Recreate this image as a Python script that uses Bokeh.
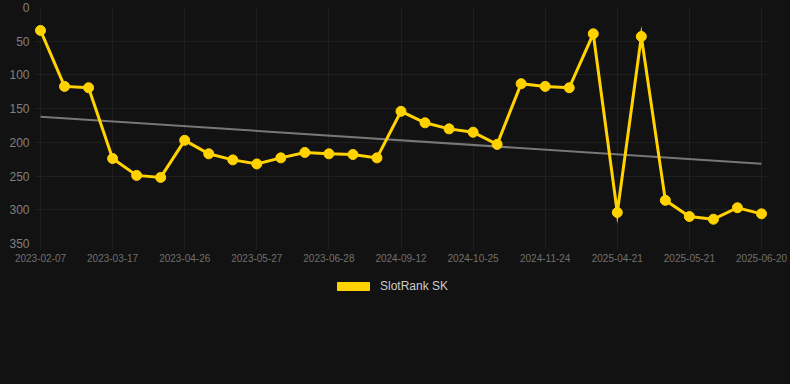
import numpy as np
from bokeh.plotting import figure
from bokeh.layouts import column
from bokeh.models import Range1d, FixedTicker, Legend, LegendItem, ColumnDataSource
from bokeh.embed import file_html
from bokeh.resources import INLINE

tick_labels = ["2023-02-07", "2023-03-17", "2023-04-26", "2023-05-27", "2023-06-28",
               "2024-09-12", "2024-10-25", "2024-11-24", "2025-04-21", "2025-05-21", "2025-06-20"]
ranks = [34, 117, 119, 224, 249, 252, 197, 217, 226, 232, 223, 215, 217, 218, 223,
         154, 171, 180, 185, 203, 113, 117, 119, 39, 304, 43, 286, 310, 314, 297, 306]
y_ticks = [0, 50, 100, 150, 200, 250, 300, 350]
series_name = "SlotRank SK"

GOLD = "#FFD200"
BG = "#121212"
GRID = "#1f1f1f"
FONT = "Liberation Sans"

idx = list(range(len(ranks)))
label_step = (len(ranks) - 1) // (len(tick_labels) - 1)
tick_pos = idx[::label_step]

slope, intercept = np.polyfit(idx, ranks, 1)
trend_x = [idx[0], idx[-1]]
trend_y = [intercept + slope * idx[0], intercept + slope * idx[-1]]

pad = 0.25  # keeps the end markers unclipped
p = figure(frame_width=733, frame_height=236, output_backend="svg", toolbar_location=None,
           x_range=Range1d(idx[0] - pad, idx[-1] + pad), y_range=Range1d(350, 0),
           min_border_left=34, min_border_right=23, min_border_top=7, min_border_bottom=27)
p.background_fill_color = BG
p.border_fill_color = BG
p.outline_line_color = None
p.outline_line_alpha = 0

p.xaxis.ticker = FixedTicker(ticks=tick_pos)
p.xaxis.major_label_overrides = {pos: lab for pos, lab in zip(tick_pos, tick_labels)}
p.yaxis.ticker = FixedTicker(ticks=y_ticks)
for ax in (p.xaxis, p.yaxis):
    ax.axis_line_color = None
    ax.major_tick_line_color = GRID
    ax.major_tick_in = 0
    ax.minor_tick_line_color = None
    ax.major_label_text_font = FONT
p.xaxis.major_tick_out = 6
p.yaxis.major_tick_out = 0
p.xaxis.major_label_text_color = "#707070"
p.yaxis.major_label_text_color = "#808080"
p.xaxis.major_label_text_font_size = "10px"
p.xaxis.major_label_standoff = 4
p.yaxis.major_label_text_font_size = "12px"
p.yaxis.major_label_standoff = 5
p.xgrid.ticker = FixedTicker(ticks=tick_pos)
p.ygrid.ticker = FixedTicker(ticks=y_ticks)
p.xgrid.grid_line_color = GRID
p.ygrid.grid_line_color = GRID

src = ColumnDataSource(dict(x=idx, y=ranks))
p.line(trend_x, trend_y, line_color="#777777", line_width=2)
p.line("x", "y", source=src, line_color=GOLD, line_width=3, line_join="miter")
p.scatter("x", "y", source=src, size=10, fill_color=GOLD, line_color=GOLD)

# legend figure below the chart (swatch glyph sits outside the visible range)
lg = figure(width=790, height=114, output_backend="svg", toolbar_location=None,
            x_range=Range1d(0, 1), y_range=Range1d(0, 1),
            min_border=0, x_axis_location=None, y_axis_location=None)
lg.background_fill_color = BG
lg.border_fill_color = BG
lg.outline_line_color = None
lg.xgrid.visible = False
lg.ygrid.visible = False
swatch = lg.quad(left=[5], right=[6], top=[6], bottom=[5], fill_color=GOLD, line_color=GOLD)
legend = Legend(items=[LegendItem(label=series_name, renderers=[swatch])],
                orientation="horizontal", location=(299, 91),
                background_fill_alpha=0, border_line_color=None,
                label_text_font=FONT, label_text_font_size="12px", label_text_color="#cccccc",
                glyph_width=40, glyph_height=10, label_height=12, label_standoff=7,
                padding=4, margin=0, spacing=0)
lg.add_layout(legend, "center")

layout = column(p, lg, spacing=0, styles={"background-color": BG})
open("out.html", "w").write(file_html(layout, INLINE))
